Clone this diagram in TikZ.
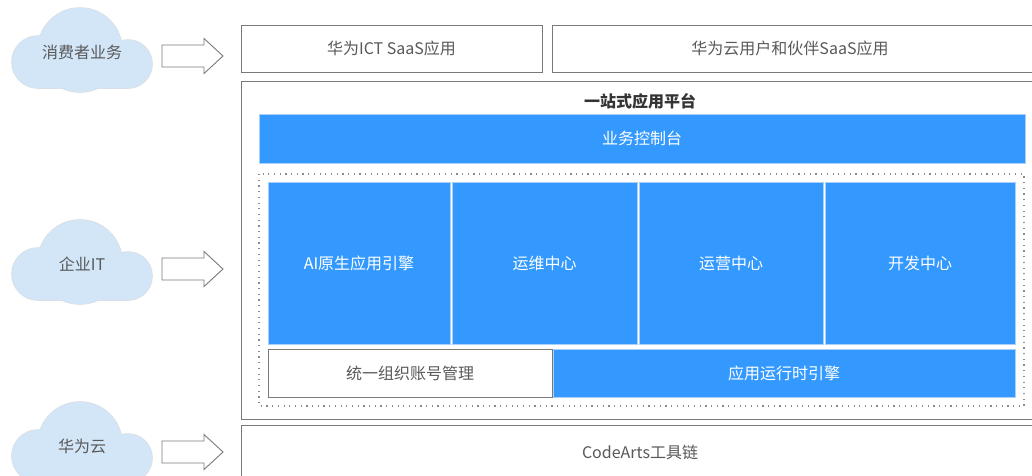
\documentclass[tikz,border=0pt]{standalone}
\usepackage{fontspec}
\setmainfont{Noto Sans CJK SC}
\definecolor{appblue}{HTML}{3399FF}
\definecolor{blueedge}{HTML}{A8D0FA}
\definecolor{boxgray}{HTML}{7A7A7A}
\definecolor{txtgray}{HTML}{595959}
\definecolor{titlegray}{HTML}{333333}
\definecolor{cloudfill}{HTML}{D2E6F8}
\definecolor{cloudedge}{HTML}{D9DEE4}
\definecolor{dotgray}{HTML}{8A8A8A}
\newcommand{\fs}{\fontsize{16}{19}\selectfont}
\newcommand{\mycloud}[4]{%
  \begin{scope}[shift={(#1,#2)}]
    \path[draw=cloudedge, line width=1.6pt]
      (-44,14) circle[radius=26pt] (-2,2) circle[radius=42pt]
      (46,16) circle[radius=24pt]
      (-44,14) rectangle (46,40);
    \path[fill=cloudfill]
      (-44,14) circle[radius=26pt] (-2,2) circle[radius=42pt]
      (46,16) circle[radius=24pt]
      (-44,14) rectangle (46,40);
    \node[cloudtext] (#3) at (0,4) {#4};
  \end{scope}}
\newcommand{\myarrow}[1]{%
  \draw[blockarrow, shift={(0,#1)}] (162,-11) -- (204,-11) -- (204,-17.5) -- (223,0)
    -- (204,17.5) -- (204,11) -- (162,11) -- cycle;}
\begin{document}
\begin{tikzpicture}[x=1pt,y=-1pt,
  whitebox/.style={draw=boxgray, line width=1pt, fill=white, text=txtgray, font=\fs, inner sep=0pt, anchor=center},
  bluebox/.style={draw=blueedge, line width=0.8pt, fill=appblue, text=white, font=\fs, inner sep=0pt, anchor=center},
  plaintext/.style={text=txtgray, font=\fs, inner sep=0pt, anchor=center},
  titletext/.style={text=titlegray, font=\fs\bfseries, inner sep=0pt, anchor=center},
  cloudtext/.style={text=txtgray, font=\fs, inner sep=0pt, anchor=center},
  blockarrow/.style={draw=boxgray, line width=0.9pt, fill=white},
  dottedframe/.style={draw=dotgray, line width=1.1pt, dash pattern=on 1.2pt off 4.5pt}
]
\useasboundingbox (0,0) rectangle (1032,475);
\clip (0,0) rectangle (1032,475);
\fill[white] (0,0) rectangle (1032,475);

% clouds
\mycloud{82}{48}{consumer}{消费者业务}
\mycloud{82}{260}{enterprise}{企业IT}
\mycloud{82}{442}{hwcloud}{华为云}

% block arrows
\myarrow{56}
\myarrow{269}
\myarrow{452}

% top boxes
\node[whitebox, minimum width=301pt, minimum height=47pt] (ict) at (391.5,48.5) {华为ICT SaaS应用};
\node[whitebox, minimum width=488pt, minimum height=47pt] (partner) at (796,48.5) {};
\node[plaintext] (partnerT) at (790,48.5) {华为云用户和伙伴SaaS应用};

% platform
\node[whitebox, minimum width=799pt, minimum height=338pt] (platform) at (640.5,250) {};
\node[titletext] (platformT) at (640,101) {一站式应用平台};
\node[bluebox, minimum width=766pt, minimum height=49pt] (console) at (642,138.5) {业务控制台};
\draw[dottedframe] (259,174) rectangle (1024,406);

\node[bluebox, minimum width=182pt, minimum height=162pt] (ai) at (359,263) {AI原生应用引擎};
\node[bluebox, minimum width=185pt, minimum height=162pt] (ops) at (544.5,263) {运维中心};
\node[bluebox, minimum width=184pt, minimum height=162pt] (operate) at (731,263) {运营中心};
\node[bluebox, minimum width=190pt, minimum height=162pt] (dev) at (920,263) {开发中心};

\node[whitebox, minimum width=284pt, minimum height=48pt] (account) at (410,373) {统一组织账号管理};
\node[bluebox, minimum width=462pt, minimum height=48pt] (runtime) at (784,373) {应用运行时引擎};

% CodeArts
\node[whitebox, minimum width=799pt, minimum height=60pt] (codearts) at (640.5,455) {};
\node[plaintext] (codeartsT) at (640,452) {CodeArts工具链};
\end{tikzpicture}
\end{document}
